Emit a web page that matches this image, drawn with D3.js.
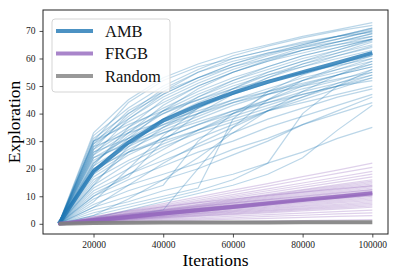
<!DOCTYPE html>
<html>
<head>
<meta charset="utf-8">
<script src="https://cdn.jsdelivr.net/npm/d3@7"></script>
<style>
  body { margin: 0; background: #fff; }
  svg { display: block; }
</style>
</head>
<body>
<div id="chart"></div>
<script>
// checkpoints (x values)
var iterations = [10000, 20000, 30000, 40000, 50000, 60000, 70000, 80000, 90000, 100000];

// individual AMB runs
var ambRuns = [
  [0,33,45,53,58,62,65,68,70.5,73],
  [0,32,42,50,56,61,64.5,67.5,70,72],
  [0,31,40,47,53,58,62,65,68,71],
  [0,30,38,46,52,57,61,64.5,67,70],
  [0,29,37,44,50,55,59,63,66,69],
  [0,28,39,48,55,60,63,66,68,69.5],
  [0,27,35,42,48,53,57,61,64,67],
  [0,26,34,40,46,51,55,59,62,65],
  [0,25,33,41,47,52,56,60,63,66.5],
  [0,24,31,38,44,49,54,58,61,64],
  [0,23,30,36,42,47,51,55,58,61],
  [0,22,32,40,45,50,54,57,60,63],
  [0,21,29,35,40,45,49,53,56,59],
  [0,20,28,34,39,44,48,52,55,58],
  [0,30,36,41,45,49,52,55,57.5,60],
  [0,28,33,37,41,45,48,51,54,57],
  [0,26,31,36,40,44,47,50,52.5,55],
  [0,24,29,33,37,41,44,47,50,53],
  [0,19,27,33,38,43,47,50.5,54,57],
  [0,18,26,31,36,40,44,48,51,54],
  [0,17,25,31,36,41,45,49,52,56],
  [0,16,23,29,34,39,43,47,50,52],
  [0,15,26,35,42,48,53,57,61,64.5],
  [0,14,22,28,33,37,41,44,47,50],
  [0,13,20,27,34,40,45,50,54,58],
  [0,12,18,23,28,33,38,42,46,49],
  [0,11,17,30,40,47,53,58,62,66],
  [0,10,16,21,26,30,35,39,43,47],
  [0,9,14,18,22,27,31,36,40,44],
  [0,8,20,32,42,49,55,59,63,67],
  [0,7,12,16,20,25,30,36,41,46],
  [0,6,10,14,30,40,47,52,56,60],
  [0,5,8,12,15,18,22,26,31,35],
  [0,4,7,10,13,38,48,54,58,62],
  [0,3,6,9,12,16,22,40,50,56],
  [0,2,5,8,11,14,18,24,34,43],
  [0,1,3,5,20,35,45,52,57,61],
  [0,22,33,43,50,55,59,62,65,68],
  [0,30,44,52,57,60,63,65.5,68,71],
  [0,25,38,47,53,58,61.5,65,68,70.5],
  [0,19,31,41,49,55,59.5,63,66,69],
  [0,27,40,49,55,59,62,64,66,68],
  [0,10,18,25,31,36,41,45,49,53],
  [0,6,14,22,29,35,41,46,51,55],
  [0,20,26,30,34,38,42,46,50,54],
  [0,14,28,38,46,52,57,61,64,67],
  [0,3,9,16,24,33,41,48,54,59],
  [0,29,41,48,53,57,60,63,65,67],
  [0,21,35,45,51,56,60,64,67,70]
];
var ambMean = [0, 19, 29.5, 37.5, 43, 47.5, 51.5, 55, 58.5, 62];

// individual FRGB runs
var frgbRuns = [
  [0,2.4,4.9,7.3,9.8,12.2,14.6,17.1,19.5,22],
  [0,2.3,4.6,6.8,9.1,11.4,13.7,16,18.3,20.5],
  [0,2.1,4.2,6.3,8.5,10.6,12.7,14.8,16.9,19],
  [0,2.0,4.0,6.0,8.0,10.0,12.0,14.0,16.0,18],
  [0,1.9,3.8,5.7,7.6,9.5,11.3,13.2,15.1,17],
  [0,1.8,3.6,5.3,7.1,8.9,10.7,12.4,14.2,16],
  [0,1.7,3.4,5.2,6.9,8.6,10.3,12.1,13.8,15.5],
  [0,1.7,3.3,5.0,6.7,8.3,10.0,11.7,13.3,15],
  [0,1.6,3.2,4.8,6.4,8.1,9.7,11.3,12.9,14.5],
  [0,1.6,3.1,4.7,6.2,7.8,9.3,10.9,12.4,14],
  [0,1.5,3.0,4.5,6.0,7.5,9.0,10.5,12,13.5],
  [0,1.4,2.9,4.3,5.8,7.2,8.7,10.1,11.6,13],
  [0,1.4,2.8,4.2,5.6,6.9,8.3,9.7,11.1,12.5],
  [0,1.3,2.7,4.0,5.3,6.7,8.0,9.3,10.7,12],
  [0,1.3,2.6,3.8,5.1,6.4,7.7,8.9,10.2,11.5],
  [0,1.2,2.4,3.7,4.9,6.1,7.3,8.6,9.8,11],
  [0,1.2,2.3,3.5,4.7,5.8,7.0,8.2,9.3,10.5],
  [0,1.1,2.2,3.3,4.4,5.6,6.7,7.8,8.9,10],
  [0,1.1,2.1,3.2,4.2,5.3,6.3,7.4,8.4,9.5],
  [0,1.0,2.0,3.0,4.0,5.0,6.0,7.0,8.0,9],
  [0,0.9,1.9,2.8,3.8,4.7,5.7,6.6,7.6,8.5],
  [0,0.9,1.8,2.7,3.6,4.4,5.3,6.2,7.1,8],
  [0,0.8,1.7,2.5,3.3,4.2,5.0,5.8,6.7,7.5],
  [0,0.8,1.6,2.3,3.1,3.9,4.7,5.4,6.2,7],
  [0,0.7,1.4,2.2,2.9,3.6,4.3,5.1,5.8,6.5],
  [0,0.7,1.3,2.0,2.7,3.3,4.0,4.7,5.3,6],
  [0,0.6,1.1,1.7,2.2,2.8,3.3,3.9,4.4,5],
  [0,0.4,0.9,1.3,1.8,2.2,2.7,3.1,3.6,4],
  [0,0.3,0.7,1.0,1.3,1.7,2.0,2.3,2.7,3],
  [0,0.2,0.3,0.5,0.7,0.8,1.0,1.2,1.3,1.5],
  [0,2.0,3.6,5.0,6.3,7.6,8.8,10.0,11.2,12.3],
  [0,1.8,3.2,4.4,5.6,6.7,7.8,8.8,9.8,10.8],
  [0,1.5,2.8,4.0,5.2,6.3,7.4,8.4,9.3,10.2],
  [0,0.9,2.0,3.2,4.4,5.7,7.0,8.3,9.6,11.0],
  [0,2.6,4.5,6.2,7.7,9.0,10.3,11.5,12.7,13.8],
  [0,1.2,2.5,3.7,5.0,6.2,7.4,8.7,9.9,11.2],
  [0,1.0,2.2,3.4,4.6,5.9,7.1,8.4,9.6,10.9],
  [0,1.5,2.9,4.2,5.5,6.8,8.0,9.2,10.4,11.7]
];
var frgbMean = [0, 1.2, 2.5, 3.7, 4.9, 6.1, 7.4, 8.6, 9.8, 11.1];

var randomMean = [0, 0.3, 0.4, 0.45, 0.5, 0.5, 0.5, 0.55, 0.55, 0.6];

var xTicks = [20000, 40000, 60000, 80000, 100000];
var yTicks = [0, 10, 20, 30, 40, 50, 60, 70];
var legendLabels = ["AMB", "FRGB", "Random"];

var W = 399, H = 277;
var margin = {left: 43, right: 11, top: 10, bottom: 43};
var serif = "'Liberation Serif', 'DejaVu Serif', serif";

var svg = d3.select("#chart").append("svg")
        .attr("width", W)
        .attr("height", H);

var x = d3.scaleLinear()
        .domain([5500, 104500])
        .range([margin.left, W - margin.right]);

var y = d3.scaleLinear()
        .domain([-3.7, 77.6])
        .range([H - margin.bottom, margin.top]);

svg.append("clipPath").attr("id", "clip")
        .append("rect")
        .attr("x", margin.left).attr("y", margin.top)
        .attr("width", W - margin.left - margin.right)
        .attr("height", H - margin.top - margin.bottom);

var line = d3.line()
        .x(function(d, i) { return x(iterations[i]); })
        .y(function(d) { return y(d); });

var plot = svg.append("g").attr("clip-path", "url(#clip)");

// thin runs
plot.append("g").selectAll("path")
        .data(ambRuns).enter().append("path")
        .attr("d", line)
        .attr("fill", "none")
        .attr("stroke", "#1f77b4")
        .attr("stroke-opacity", 0.3)
        .attr("stroke-width", 1.2);

plot.append("path")
        .datum(ambMean)
        .attr("d", line)
        .attr("fill", "none")
        .attr("stroke", "#1f77b4")
        .attr("stroke-opacity", 0.8)
        .attr("stroke-width", 4);

plot.append("g").selectAll("path")
        .data(frgbRuns).enter().append("path")
        .attr("d", line)
        .attr("fill", "none")
        .attr("stroke", "#9467bd")
        .attr("stroke-opacity", 0.3)
        .attr("stroke-width", 1.2);

plot.append("path")
        .datum(frgbMean)
        .attr("d", line)
        .attr("fill", "none")
        .attr("stroke", "#9467bd")
        .attr("stroke-opacity", 0.8)
        .attr("stroke-width", 4);

plot.append("path")
        .datum(randomMean)
        .attr("d", line)
        .attr("fill", "none")
        .attr("stroke", "#7f7f7f")
        .attr("stroke-opacity", 0.9)
        .attr("stroke-width", 4);

// axes
var xAxis = svg.append("g")
        .attr("transform", "translate(0," + (H - margin.bottom) + ")")
        .call(d3.axisBottom(x).tickValues(xTicks).tickFormat(d3.format("d")).tickSize(3.5).tickPadding(4));
var yAxis = svg.append("g")
        .attr("transform", "translate(" + margin.left + ",0)")
        .call(d3.axisLeft(y).tickValues(yTicks).tickSize(3.5).tickPadding(4));

[xAxis, yAxis].forEach(function(a) {
        a.select(".domain").remove();
        a.selectAll("line").attr("stroke", "#222").attr("stroke-width", 0.8);
        a.selectAll("text").attr("font-family", serif).attr("font-size", 9.5).attr("fill", "#222");
});

// frame
svg.append("rect")
        .attr("x", margin.left).attr("y", margin.top)
        .attr("width", W - margin.left - margin.right)
        .attr("height", H - margin.top - margin.bottom)
        .attr("fill", "none")
        .attr("stroke", "#222")
        .attr("stroke-width", 1);

// axis labels
svg.append("text")
        .attr("x", (margin.left + W - margin.right) / 2)
        .attr("y", 266)
        .attr("text-anchor", "middle")
        .attr("font-family", serif)
        .attr("font-size", 17.5)
        .text("Iterations");

svg.append("text")
        .attr("transform", "translate(20," + ((margin.top + H - margin.bottom) / 2) + ") rotate(-90)")
        .attr("text-anchor", "middle")
        .attr("font-family", serif)
        .attr("font-size", 17.5)
        .text("Exploration");

// legend
var legendColors = ["#1f77b4", "#9467bd", "#7f7f7f"];
var legend = svg.append("g");
legend.append("rect")
        .attr("x", 52).attr("y", 19)
        .attr("width", 118).attr("height", 73)
        .attr("rx", 3)
        .attr("fill", "#fff").attr("fill-opacity", 0.8)
        .attr("stroke", "#d5d5d5").attr("stroke-width", 1);

var item = legend.selectAll("g.item")
        .data(legendLabels).enter().append("g")
        .attr("class", "item")
        .attr("transform", function(d, i) { return "translate(0," + (31 + i * 22.5) + ")"; });

item.append("line")
        .attr("x1", 56).attr("x2", 93)
        .attr("stroke", function(d, i) { return legendColors[i]; })
        .attr("stroke-opacity", 0.8)
        .attr("stroke-width", 4);

item.append("text")
        .attr("x", 105).attr("y", 5.5)
        .attr("font-family", serif)
        .attr("font-size", 16.5)
        .attr("fill", "#111")
        .text(function(d) { return d; });
</script>
</body>
</html>
